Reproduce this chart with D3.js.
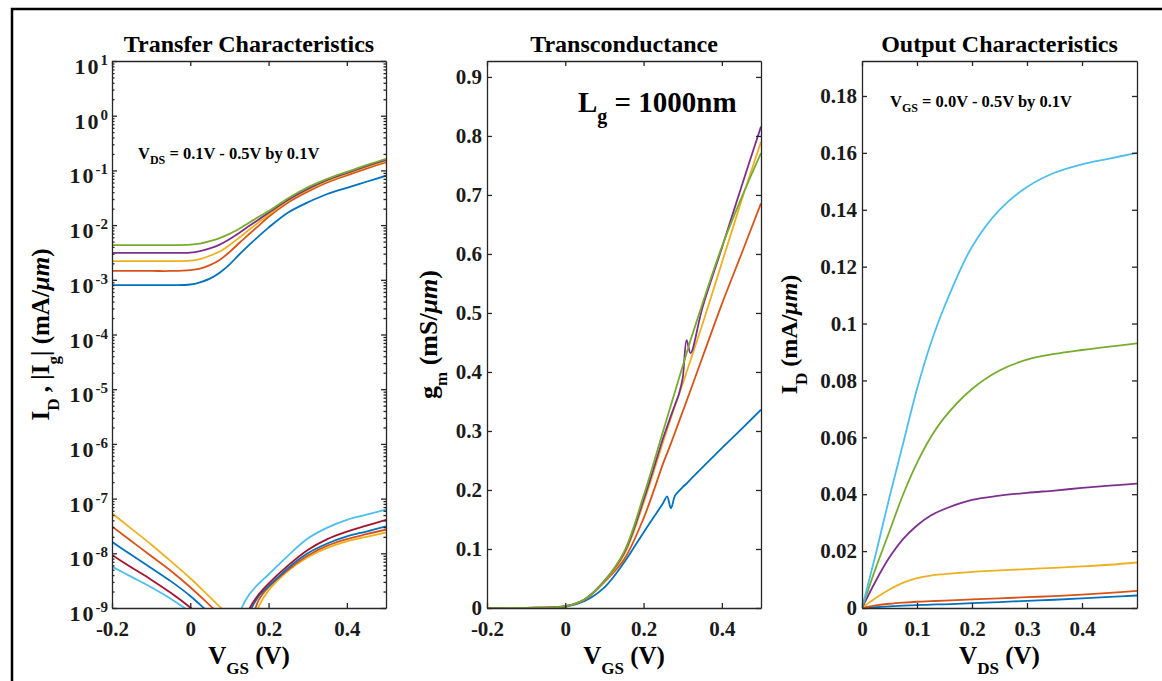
<!DOCTYPE html>
<html>
<head>
<meta charset="utf-8">
<script src="https://cdn.jsdelivr.net/npm/d3@7"></script>
<style>
  body { margin: 0; background: #fff; }
</style>
</head>
<body>
<div id="chart"></div>
<script>
// ---- data ----

// Transfer characteristics, I_D for VDS = 0.1 .. 0.5 V
const vgsTransfer = [-0.2, -0.1, -0.05, 0, 0.025, 0.05, 0.075, 0.1, 0.125, 0.15, 0.175, 0.2, 0.25, 0.3, 0.35, 0.4, 0.45, 0.5];
const idVds01 = [8.0e-4, 8.0e-4, 8.0e-4, 8.2e-4, 9.0e-4, 1.05e-3, 1.35e-3, 1.9e-3, 2.9e-3, 4.3e-3, 6.3e-3, 9.0e-3, 0.017, 0.026, 0.037, 0.048, 0.062, 0.080];
const idVds02 = [1.45e-3, 1.45e-3, 1.45e-3, 1.5e-3, 1.6e-3, 1.85e-3, 2.3e-3, 3.2e-3, 4.7e-3, 6.8e-3, 9.8e-3, 0.0142, 0.026, 0.041, 0.060, 0.081, 0.108, 0.140];
const idVds03 = [2.2e-3, 2.2e-3, 2.2e-3, 2.25e-3, 2.4e-3, 2.75e-3, 3.3e-3, 4.3e-3, 5.9e-3, 8.2e-3, 0.0113, 0.0155, 0.028, 0.044, 0.064, 0.087, 0.115, 0.150];
const idVds04 = [3.1e-3, 3.1e-3, 3.1e-3, 3.15e-3, 3.35e-3, 3.75e-3, 4.4e-3, 5.5e-3, 7.2e-3, 9.6e-3, 0.0127, 0.0168, 0.029, 0.046, 0.067, 0.090, 0.120, 0.156];
const idVds05 = [4.3e-3, 4.3e-3, 4.3e-3, 4.4e-3, 4.6e-3, 5.1e-3, 5.8e-3, 6.9e-3, 8.6e-3, 0.011, 0.0142, 0.018, 0.031, 0.049, 0.070, 0.094, 0.125, 0.163];

// Transfer characteristics, |I_g| (dips below the axis are clipped)
const vgsGate = [-0.2, -0.15, -0.1, -0.05, 0, 0.05, 0.1, 0.125, 0.15, 0.175, 0.2, 0.25, 0.3, 0.35, 0.4, 0.45, 0.5];
const igYellow = [5.4e-8, 2.8e-8, 1.45e-8, 7.2e-9, 3.5e-9, 1.58e-9, 7.1e-10, 4.5e-10, 3.2e-10, 1.07e-9, 2.1e-9, 4.8e-9, 8.5e-9, 1.26e-8, 1.66e-8, 2.0e-8, 2.4e-8];
const igOrange = [3.1e-8, 1.66e-8, 8.9e-9, 4.8e-9, 2.4e-9, 1.12e-9, 5.2e-10, 3.5e-10, 5.0e-10, 1.41e-9, 2.4e-9, 5.0e-9, 9.1e-9, 1.38e-8, 1.82e-8, 2.24e-8, 2.7e-8];
const igBlue = [1.62e-8, 9.3e-9, 5.4e-9, 3.1e-9, 1.66e-9, 7.9e-10, 3.8e-10, 2.6e-10, 7.9e-10, 1.66e-9, 2.5e-9, 5.4e-9, 1.0e-8, 1.51e-8, 2.04e-8, 2.5e-8, 3.1e-8];
const igDarkRed = [9.3e-9, 5.5e-9, 3.3e-9, 1.9e-9, 1.02e-9, 5.0e-10, 2.5e-10, 1.8e-10, 9.3e-10, 1.78e-9, 2.8e-9, 6.0e-9, 1.15e-8, 1.82e-8, 2.5e-8, 3.2e-8, 4.1e-8];
const igLightBlue = [5.7e-9, 3.7e-9, 2.4e-9, 1.48e-9, 8.3e-10, 3.6e-10, 2.0e-10, 7.9e-10, 1.74e-9, 2.8e-9, 4.1e-9, 9.1e-9, 1.86e-8, 2.95e-8, 4.1e-8, 5.1e-8, 6.3e-8];

// Transconductance g_m (mS/um)
const vgsGm = [-0.2, -0.1, 0, 0.05, 0.1, 0.15, 0.2, 0.25, 0.26, 0.27, 0.28, 0.29, 0.3, 0.31, 0.32, 0.35, 0.4, 0.45, 0.5];
const gmVds01 = [0, 0.0003, 0.002, 0.012, 0.035, 0.077, 0.128, 0.178, 0.189, 0.169, 0.19, 0.198, 0.205, 0.211, 0.218, 0.238, 0.271, 0.303, 0.336];
const gmVds02 = [0, 0.0003, 0.003, 0.014, 0.044, 0.082, 0.152, 0.245, 0.262, 0.279, 0.297, 0.315, 0.333, 0.351, 0.369, 0.424, 0.515, 0.600, 0.686];
const gmVds03 = [0, 0.0003, 0.003, 0.015, 0.045, 0.090, 0.178, 0.282, 0.302, 0.322, 0.342, 0.361, 0.380, 0.400, 0.420, 0.480, 0.585, 0.690, 0.790];
const gmVds04 = [0, 0.0003, 0.003, 0.015, 0.046, 0.093, 0.183, 0.288, 0.307, 0.326, 0.344, 0.362, 0.390, 0.454, 0.432, 0.508, 0.610, 0.714, 0.816];
const gmVds05 = [0, 0.0003, 0.003, 0.015, 0.046, 0.095, 0.190, 0.300, 0.322, 0.344, 0.366, 0.388, 0.410, 0.432, 0.454, 0.515, 0.612, 0.695, 0.771];

// Output characteristics, I_D for VGS = 0.0 .. 0.5 V
const vdsOut = [0, 0.025, 0.05, 0.075, 0.1, 0.125, 0.15, 0.2, 0.25, 0.3, 0.35, 0.4, 0.45, 0.5];
const idVgs00 = [0, 0.0003, 0.0006, 0.0008, 0.001, 0.0012, 0.0013, 0.0017, 0.0021, 0.0025, 0.0029, 0.0034, 0.0039, 0.0044];
const idVgs01 = [0, 0.0009, 0.0015, 0.0019, 0.0022, 0.0024, 0.0026, 0.003, 0.0034, 0.0038, 0.0042, 0.0047, 0.0053, 0.006];
const idVgs02 = [0, 0.0035, 0.0065, 0.0089, 0.0105, 0.0114, 0.0119, 0.0127, 0.0132, 0.0137, 0.0141, 0.0146, 0.0152, 0.016];
const idVgs03 = [0, 0.0095, 0.0178, 0.0243, 0.029, 0.0325, 0.0348, 0.038, 0.0395, 0.0405, 0.0413, 0.0422, 0.043, 0.0437];
const idVgs04 = [0, 0.014, 0.027, 0.040, 0.051, 0.060, 0.067, 0.077, 0.0835, 0.0873, 0.0893, 0.0907, 0.0919, 0.093];
const idVgs05 = [0, 0.019, 0.039, 0.058, 0.077, 0.093, 0.106, 0.127, 0.140, 0.148, 0.153, 0.156, 0.158, 0.160];

// ticks
const vgsTicks = [-0.2, 0, 0.2, 0.4];
const logTickExps = [-9, -8, -7, -6, -5, -4, -3, -2, -1, 0, 1];
const gmTicks = [0, 0.1, 0.2, 0.3, 0.4, 0.5, 0.6, 0.7, 0.8, 0.9];
const vdsTicks = [0, 0.1, 0.2, 0.3, 0.4];
const idOutTicks = [0, 0.02, 0.04, 0.06, 0.08, 0.1, 0.12, 0.14, 0.16, 0.18];

// MATLAB default colours
const c = {
  blue: "#0072BD", orange: "#D95319", yellow: "#EDB120", purple: "#7E2F8E",
  green: "#77AC30", lightBlue: "#4DBEEE", darkRed: "#A2142F"
};

// ---- drawing ----
const W = 1162, H = 681;
const FONT = "'Liberation Serif', 'Times New Roman', serif";
const AXIS = "#262626";

const svg = d3.select("#chart").append("svg")
    .attr("width", W)
    .attr("height", H)
    .style("font-family", FONT)
    .style("font-weight", "bold");

// outer frame
svg.append("rect")
    .attr("x", 12).attr("y", 9)
    .attr("width", W).attr("height", H)
    .attr("fill", "none")
    .attr("stroke", "#000")
    .attr("stroke-width", 2.5);

const fmt = d => String(d);

function styleAxis(sel) {
  sel.select(".domain").attr("stroke", AXIS).attr("stroke-width", 1.3);
  sel.selectAll(".tick line").attr("stroke", AXIS).attr("stroke-width", 1.3);
  sel.selectAll(".tick text")
      .attr("font-family", FONT)
      .attr("font-weight", "bold")
      .attr("font-size", 21)
      .attr("fill", "#1a1a1a");
}

// tex-like text: parts are [text, kind], kind "" / "sub" / "it"
function richText(sel, parts, size, subSize, subShift) {
  let prevSub = false;
  parts.forEach(([t, kind]) => {
    const ts = sel.append("tspan").text(t);
    if (kind === "sub") {
      ts.attr("font-size", subSize).attr("dy", subShift);
    } else {
      ts.attr("font-size", size);
      if (kind === "it") ts.attr("font-style", "italic");
      if (prevSub) ts.attr("dy", -subShift);
    }
    prevSub = kind === "sub";
  });
}

function drawPanel(p) {
  const g = svg.append("g").attr("transform", `translate(${p.left},${p.top})`);
  const w = p.width, h = p.height;

  const x = d3.scaleLinear().domain(p.xDomain).range([0, w]);
  const y = (p.log ? d3.scaleLog() : d3.scaleLinear()).domain(p.yDomain).range([h, 0]);

  g.append("clipPath").attr("id", "clip-" + p.id)
    .append("rect").attr("width", w).attr("height", h);

  const line = d3.line()
      .x(d => x(d[0]))
      .y(d => y(d[1]))
      .curve(d3.curveCatmullRom.alpha(0.5));

  const plot = g.append("g").attr("clip-path", `url(#clip-${p.id})`);
  p.series.forEach(s => {
    plot.append("path")
        .datum(s.xs.map((v, i) => [v, s.ys[i]]))
        .attr("d", line)
        .attr("fill", "none")
        .attr("stroke", s.color)
        .attr("stroke-width", 1.8)
        .attr("stroke-linejoin", "round");
  });

  // box axes, ticks pointing inwards
  const tk = 5;
  g.append("g")
      .attr("transform", `translate(0,${h})`)
      .call(d3.axisBottom(x).tickValues(p.xTicks).tickSize(-tk).tickSizeOuter(0).tickPadding(13).tickFormat(fmt))
      .call(styleAxis);
  g.append("g")
      .call(d3.axisTop(x).tickValues(p.xTicks).tickSize(-tk).tickSizeOuter(0).tickFormat(""))
      .call(styleAxis);

  if (p.log) {
    const major = p.yTicks.map(e => Math.pow(10, e));
    const minor = [];
    p.yTicks.slice(0, -1).forEach(e => {
      for (let m = 2; m <= 9; m++) minor.push(m * Math.pow(10, e));
    });
    g.append("g")
        .call(d3.axisLeft(y).tickValues(major).tickSize(-tk).tickSizeOuter(0).tickFormat(""))
        .call(styleAxis);
    g.append("g")
        .attr("transform", `translate(${w},0)`)
        .call(d3.axisRight(y).tickValues(major).tickSize(-tk).tickSizeOuter(0).tickFormat(""))
        .call(styleAxis);
    [0, w].forEach(xx => {
      const ax = xx === 0 ? d3.axisLeft(y) : d3.axisRight(y);
      g.append("g")
          .attr("transform", `translate(${xx},0)`)
          .call(ax.tickValues(minor).tickSize(-2.5).tickSizeOuter(0).tickFormat(""))
          .call(styleAxis)
          .call(a => a.select(".domain").remove());
    });
    // 10^n labels
    p.yTicks.forEach(e => {
      const t = g.append("text")
          .attr("x", -4)
          .attr("y", y(Math.pow(10, e)) + 13)
          .attr("text-anchor", "end")
          .attr("fill", "#1a1a1a");
      t.append("tspan").attr("font-size", 22).attr("letter-spacing", 2).text("10");
      t.append("tspan").attr("font-size", 15).attr("dy", -9).text(String(e));
    });
  } else {
    g.append("g")
        .call(d3.axisLeft(y).tickValues(p.yTicks).tickSize(-tk).tickSizeOuter(0).tickPadding(5).tickFormat(fmt))
        .call(styleAxis);
    g.append("g")
        .attr("transform", `translate(${w},0)`)
        .call(d3.axisRight(y).tickValues(p.yTicks).tickSize(-tk).tickSizeOuter(0).tickFormat(""))
        .call(styleAxis);
  }

  // title
  g.append("text")
      .attr("x", w / 2).attr("y", -9)
      .attr("text-anchor", "middle")
      .attr("font-size", 24)
      .attr("fill", "#000")
      .text(p.title);

  // x label
  const xl = g.append("text")
      .attr("x", w / 2).attr("y", 664 - p.top)
      .attr("text-anchor", "middle")
      .attr("fill", "#000");
  richText(xl, p.xLabel, 25, 17, 10);

  // y label
  const yl = g.append("text")
      .attr("transform", `translate(${p.yLabelX - p.left},${h / 2}) rotate(-90)`)
      .attr("text-anchor", "middle")
      .attr("fill", "#000");
  richText(yl, p.yLabel, p.yLabelSize, 17, 10);

  // annotation
  if (p.note) {
    const nt = g.append("text")
        .attr("x", p.note.x - p.left).attr("y", p.note.y - p.top)
        .attr("fill", "#000");
    richText(nt, p.note.parts, p.note.size, p.note.subSize, p.note.subShift);
  }
}

drawPanel({
  id: "transfer", left: 112, top: 61, width: 274, height: 547,
  xDomain: [-0.2, 0.5], yDomain: [1e-9, 10], log: true,
  xTicks: vgsTicks, yTicks: logTickExps,
  title: "Transfer Characteristics",
  xLabel: [["V", ""], ["GS", "sub"], [" (V)", ""]],
  yLabelX: 49, yLabelSize: 25,
  yLabel: [["I", ""], ["D", "sub"], [" , |I", ""], ["g", "sub"], ["| (mA/", ""], ["\u03bcm", "it"], [")", ""]],
  note: { x: 138, y: 159, size: 16.5, subSize: 12, subShift: 5,
          parts: [["V", ""], ["DS", "sub"], [" = 0.1V - 0.5V by 0.1V", ""]] },
  series: [
    { xs: vgsTransfer, ys: idVds01, color: c.blue },
    { xs: vgsTransfer, ys: idVds02, color: c.orange },
    { xs: vgsTransfer, ys: idVds03, color: c.yellow },
    { xs: vgsTransfer, ys: idVds04, color: c.purple },
    { xs: vgsTransfer, ys: idVds05, color: c.green },
    { xs: vgsGate, ys: igYellow, color: c.yellow },
    { xs: vgsGate, ys: igOrange, color: c.orange },
    { xs: vgsGate, ys: igBlue, color: c.blue },
    { xs: vgsGate, ys: igDarkRed, color: c.darkRed },
    { xs: vgsGate, ys: igLightBlue, color: c.lightBlue }
  ]
});

drawPanel({
  id: "gm", left: 487, top: 61, width: 274, height: 547,
  xDomain: [-0.2, 0.5], yDomain: [0, 0.927], log: false,
  xTicks: vgsTicks, yTicks: gmTicks,
  title: "Transconductance",
  xLabel: [["V", ""], ["GS", "sub"], [" (V)", ""]],
  yLabelX: 437, yLabelSize: 26,
  yLabel: [["g", ""], ["m", "sub"], [" (mS/", ""], ["\u03bcm", "it"], [")", ""]],
  note: { x: 578, y: 112, size: 29, subSize: 20, subShift: 11,
          parts: [["L", ""], ["g", "sub"], [" = 1000nm", ""]] },
  series: [
    { xs: vgsGm, ys: gmVds01, color: c.blue },
    { xs: vgsGm, ys: gmVds02, color: c.orange },
    { xs: vgsGm, ys: gmVds03, color: c.yellow },
    { xs: vgsGm, ys: gmVds04, color: c.purple },
    { xs: vgsGm, ys: gmVds05, color: c.green }
  ]
});

drawPanel({
  id: "output", left: 862, top: 61, width: 275, height: 547,
  xDomain: [0, 0.5], yDomain: [0, 0.1923], log: false,
  xTicks: vdsTicks, yTicks: idOutTicks,
  title: "Output Characteristics",
  xLabel: [["V", ""], ["DS", "sub"], [" (V)", ""]],
  yLabelX: 797, yLabelSize: 24,
  yLabel: [["I", ""], ["D", "sub"], [" (mA/", ""], ["\u03bcm", "it"], [")", ""]],
  note: { x: 890, y: 107, size: 16.5, subSize: 12, subShift: 5,
          parts: [["V", ""], ["GS", "sub"], [" = 0.0V - 0.5V by 0.1V", ""]] },
  series: [
    { xs: vdsOut, ys: idVgs00, color: c.blue },
    { xs: vdsOut, ys: idVgs01, color: c.orange },
    { xs: vdsOut, ys: idVgs02, color: c.yellow },
    { xs: vdsOut, ys: idVgs03, color: c.purple },
    { xs: vdsOut, ys: idVgs04, color: c.green },
    { xs: vdsOut, ys: idVgs05, color: c.lightBlue }
  ]
});
</script>
</body>
</html>
